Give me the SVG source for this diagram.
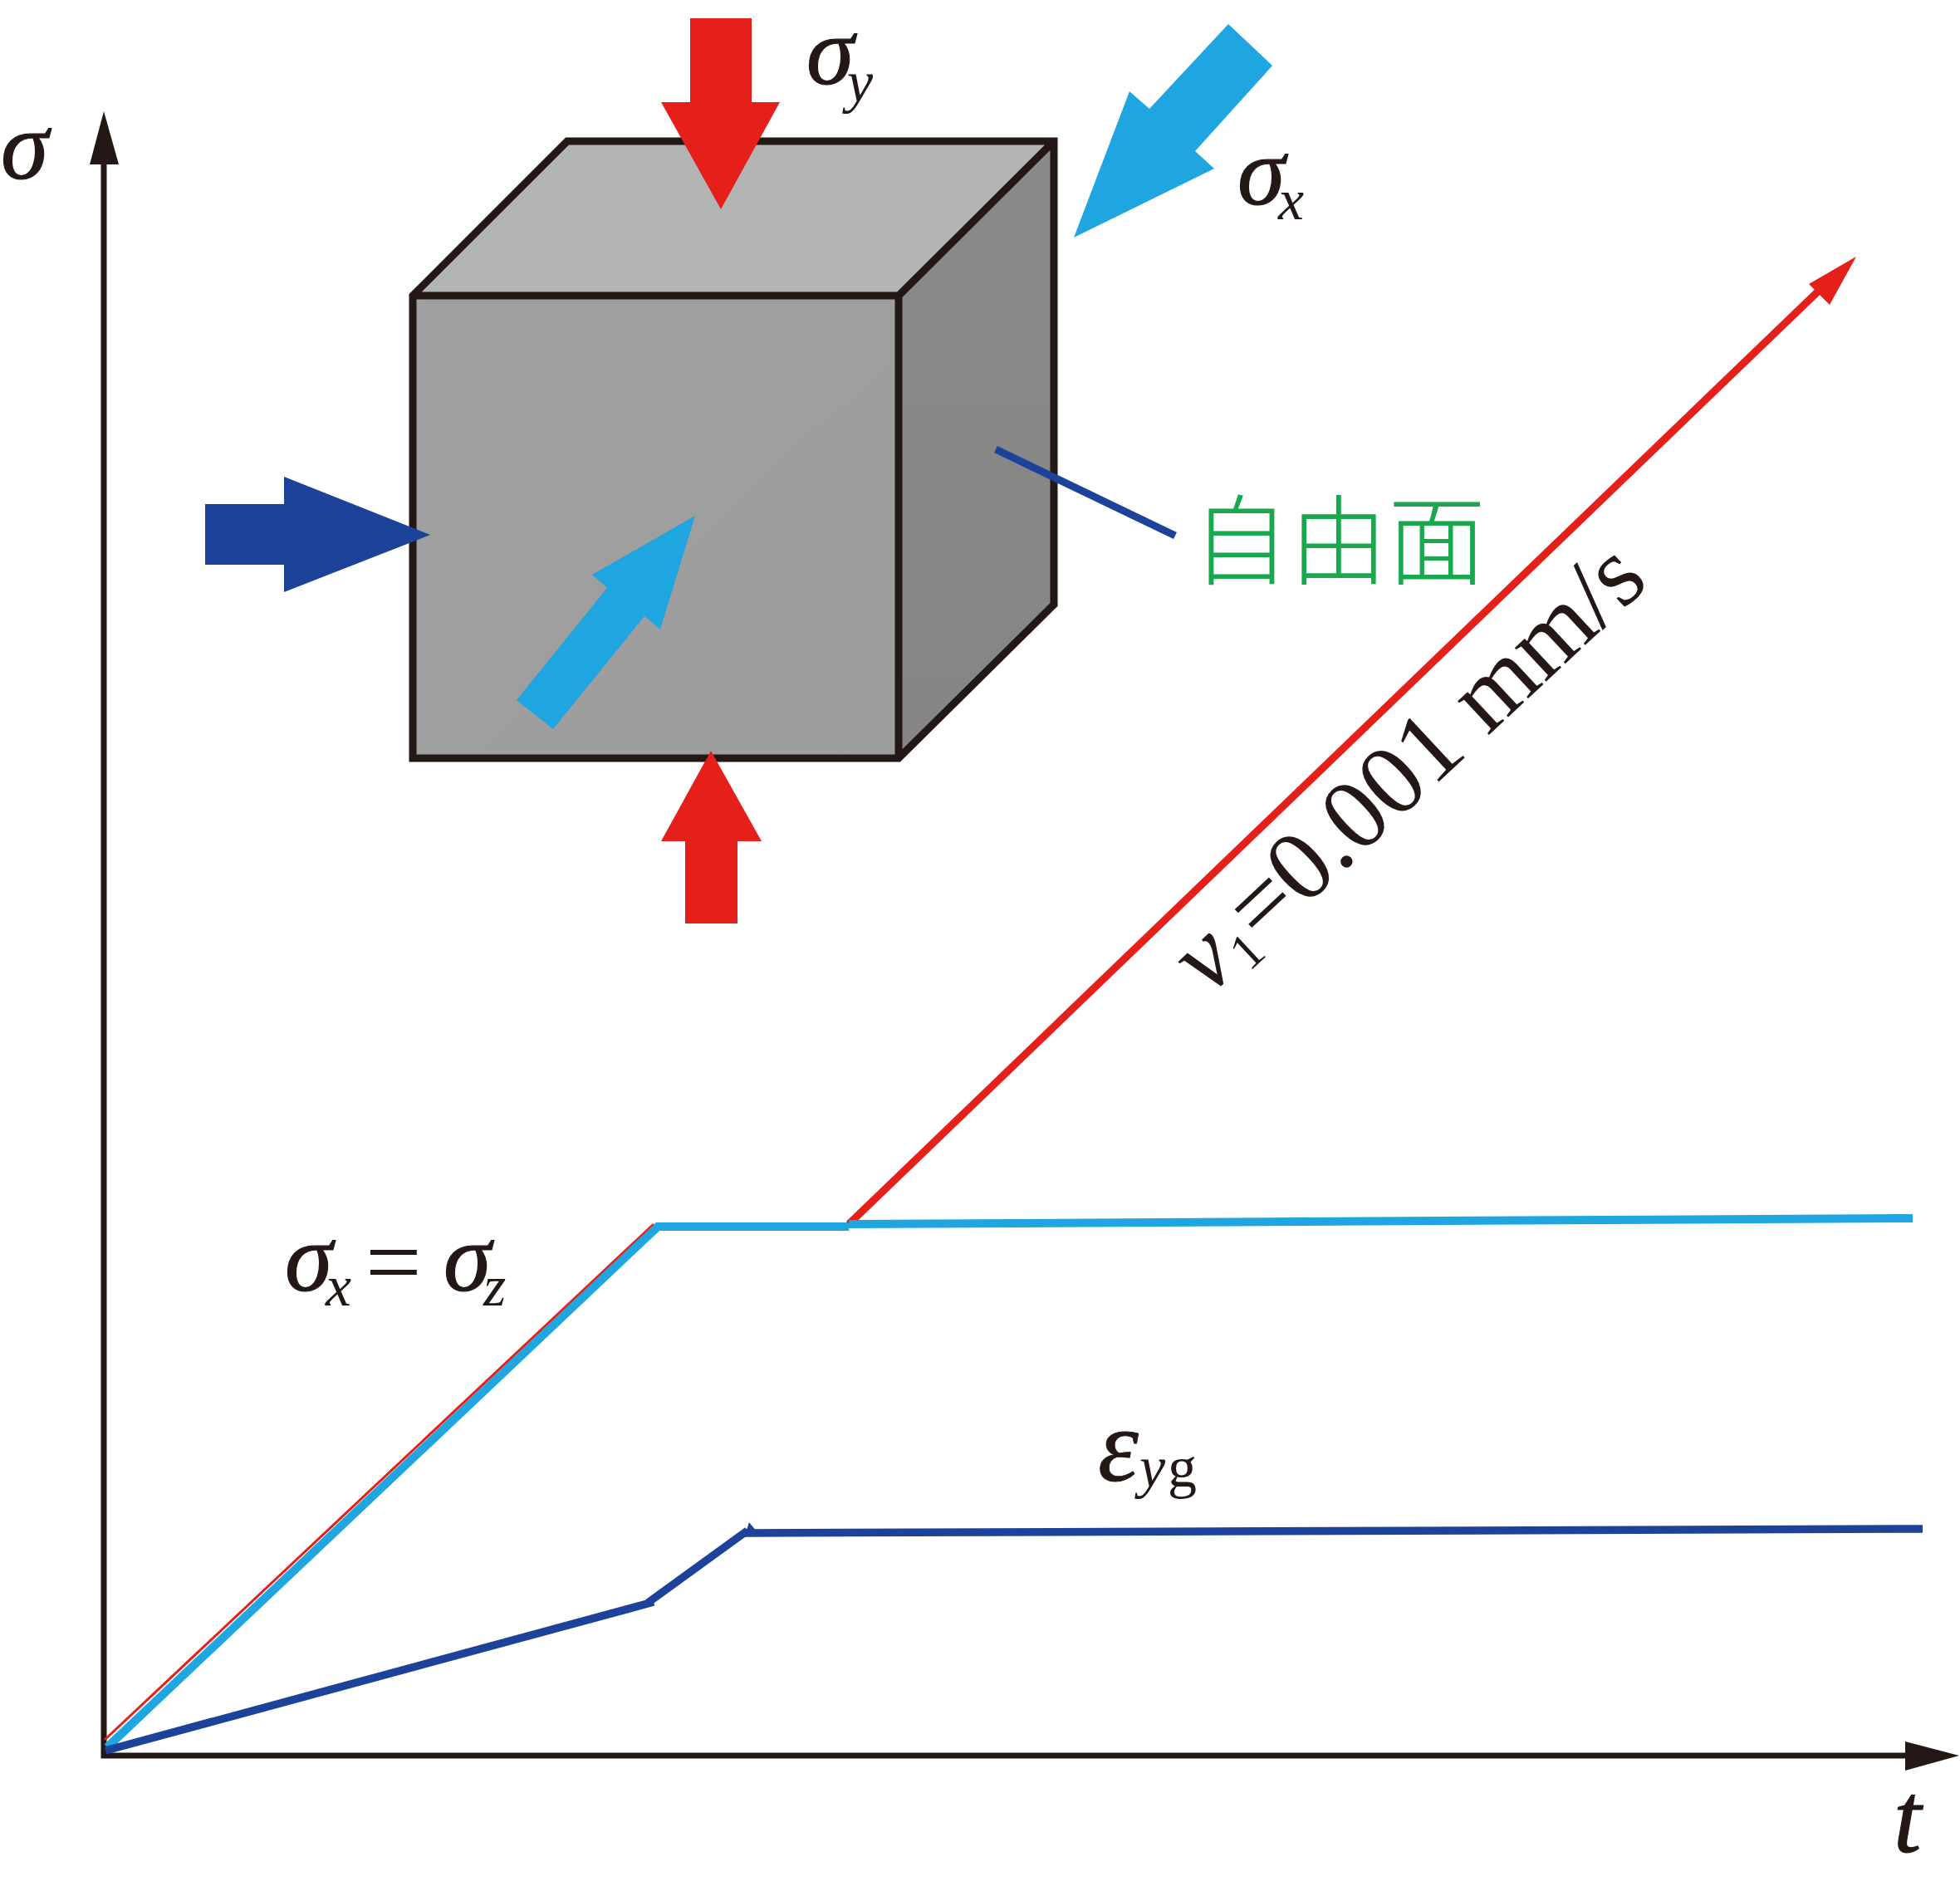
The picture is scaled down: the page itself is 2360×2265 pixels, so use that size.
<svg xmlns="http://www.w3.org/2000/svg" width="2360" height="2265" viewBox="0 0 2360 2265">
<style>
.ln{fill:none;stroke-linejoin:miter}
.k{stroke:#231815}
.cy{stroke:#1fa5df}
.rd{stroke:#e51f19}
.bl{stroke:#1c429a}
.t{font-family:"Liberation Serif","Times New Roman",serif;fill:#231815}
.i{font-style:italic}
.sig{font-size:116px;stroke:#231815;stroke-width:1.2px}
.sub{font-size:70px}
</style>
<defs>
<linearGradient id="gf" x1="0" y1="0" x2="1" y2="1"><stop offset="0" stop-color="#a0a0a0"/><stop offset="1" stop-color="#9d9d9d"/></linearGradient>
<linearGradient id="gs" x1="0" y1="0" x2="0" y2="1"><stop offset="0" stop-color="#8a8a8a"/><stop offset="1" stop-color="#858585"/></linearGradient>
</defs>
<rect width="2360" height="2265" fill="#fff"/>
<g id="cube">
<polygon points="497,356 683,170 1269,170 1082,356" fill="#b3b4b4"/>
<polygon points="1082,356 1269,170 1269,728 1082,913" fill="url(#gs)"/>
<rect x="497" y="356" width="585" height="557" fill="url(#gf)"/>
<path class="ln k" stroke-width="9" d="M497,356 L683,170 H1269 V728 L1082,913 H497 Z M497,356 H1082 V913 M1082,356 L1269,170"/>
</g>
<g id="connectors">
<path class="ln k" stroke-width="7" d="M125,198 V2114 H2296"/>
<polygon points="125,134 143,198 108,198" fill="#231815"/>
<polygon points="2359,2114 2294,2097 2294,2132" fill="#231815"/>
<path class="ln rd" stroke-width="3" d="M126,2095 L787,1474"/>
<path class="ln cy" stroke-width="10" d="M129,2104 L792,1477 H1022"/>
<path class="ln rd" stroke-width="9" d="M1022,1474 L2190,350"/>
<polygon points="2235,309 2178,342 2203,367" fill="#e51f19"/>
<path class="ln cy" stroke-width="10" d="M1022,1474 L2303,1467"/>
<path class="ln bl" stroke-width="9.5" d="M127,2108 L787,1929"/>
<path class="ln bl" stroke-width="9.5" d="M780,1930 L900,1843"/>
<path class="ln bl" stroke-width="9.5" d="M897,1846 L2315,1841"/>
<polygon points="902,1833 911,1844 896,1851" fill="#1c429a"/>
<path class="ln bl" stroke-width="9" d="M1199,541 L1415,645"/>
</g>
<g id="arrow-top"><polygon points="831,22 905,22 905,123 939,123 868,252 796,123 831,123" fill="#e51f19"/></g>
<g id="arrow-bottom"><polygon points="856,904 917,1013 888,1013 888,1112 825,1112 825,1013 796,1013" fill="#e51f19"/></g>
<g id="arrow-left"><polygon points="247,607 342,607 342,574 518,644 342,713 342,680 247,680" fill="#1c429a"/></g>
<g id="arrow-front"><polygon points="622,843 666,878 776,742 795,758 837,621 713,692 731,708" fill="#1fa5df"/></g>
<g id="arrow-back"><polygon points="1479,29 1532,79 1439,182 1462,203 1293,286 1360,110 1384,131" fill="#1fa5df"/></g>
<g id="labels">
<text class="t i sig" x="1" y="215">σ</text>
<text class="t i sig" x="971" y="101">σ</text>
<text class="t i sub" x="1020" y="122">y</text>
<text class="t i sig" x="1490" y="246">σ</text>
<text class="t i sub" x="1539" y="264">x</text>
<text class="t i sig" x="343" y="1554">σ</text>
<text class="t i sub" x="392" y="1572">x</text>
<text class="t" font-size="120" x="440" y="1560">=</text>
<text class="t i sig" x="534" y="1554">σ</text>
<text class="t i sub" x="582" y="1572">z</text>
<text class="t i" font-size="124" stroke="#231815" stroke-width="0.8" x="1322" y="1783">ε</text>
<text class="t i sub" x="1372" y="1790">y</text>
<text class="t sub" x="1406" y="1790">g</text>
<text class="t i" font-size="120" stroke="#231815" stroke-width="1.2" x="2280" y="2230">t</text>
<text font-family="'Noto Sans CJK SC',sans-serif" font-weight="300" font-size="118" fill="#1aa84e" x="1435" y="695">自由面</text>
<text class="t" font-size="121" transform="translate(1455,1200) rotate(-43)"><tspan class="i">v</tspan><tspan font-size="62" dy="12" dx="2">1</tspan><tspan dy="-12" dx="2">=0.001 mm/s</tspan></text>
</g>
</svg>
